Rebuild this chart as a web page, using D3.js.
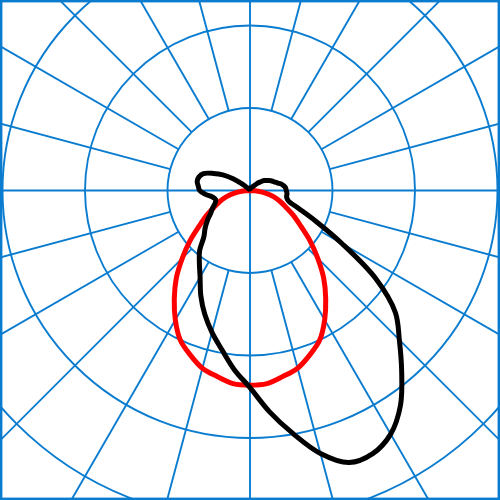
<!DOCTYPE html>
<html>
<head>
<meta charset="utf-8">
<script src="https://cdn.jsdelivr.net/npm/d3@7"></script>
<style>
  html, body { margin: 0; padding: 0; background: #fff; }
  svg { display: block; }
</style>
</head>
<body>
<div id="chart"></div>
<script>
// gamma angles (0 = straight down), one value per 5 degrees
const angles = [0, 5, 10, 15, 20, 25, 30, 35, 40, 45, 50, 55, 60, 65, 70, 75, 80, 85, 90,
  95, 100, 105, 110, 115, 120, 125, 130, 135, 140, 145, 150, 155, 160, 165, 170, 175, 180];

// black curve, right half and left half
const c0 = [239, 269, 299, 330, 351, 352, 341, 318, 286, 256, 230, 186, 129, 88, 62, 48, 45, 45, 44,
  43, 40, 35, 31, 28, 24, 21, 16, 12, 7, 6, 5, 4, 4, 3, 3, 2, 2];
const c180 = [239, 218, 196, 178, 160, 141, 121, 107, 95, 79, 71, 63, 55, 50, 45, 43, 46, 54, 61,
  63, 65, 64, 60, 49, 38, 25, 12, 5, 3, 2, 2, 2, 2, 2, 2, 2, 2];

// red curve, symmetric
const c90 = [236, 235, 229, 223, 212, 200, 181, 160, 139, 116, 95, 75, 61, 48, 39, 30, 20, 10, 0,
  0, 0, 0, 0, 0, 0, 0, 0, 0, 0, 0, 0, 0, 0, 0, 0, 0, 0];

const rings = [100, 200, 300, 400, 500];
const spokes = [0, 15, 30, 45, 60, 75, 90, 105, 120, 135, 150, 165,
  180, 195, 210, 225, 240, 255, 270, 285, 300, 315, 330, 345];

const width = 500, height = 500;
const cx = 250, cy = 190.5;
const gridColor = "#0a7cd0";

const r = d3.scaleLinear().domain([0, 100]).range([0, 82.5]);
const rad = Math.PI / 180;

const svg = d3.select("#chart").append("svg")
  .attr("width", width)
  .attr("height", height)
  .attr("viewBox", [0, 0, width, height]);

const g = svg.append("g")
  .attr("transform", `translate(${cx},${cy})`);

// rings
g.append("g")
  .selectAll("circle")
  .data(rings)
  .join("circle")
  .attr("r", d => r(d))
  .attr("fill", "none")
  .attr("stroke", gridColor)
  .attr("stroke-width", 1.9);

// spokes: main axes go through the centre, others start at first ring
g.append("g")
  .selectAll("line")
  .data(spokes)
  .join("line")
  .attr("x1", d => (d % 90 === 0 ? 0 : r(rings[0])) * Math.sin(d * rad))
  .attr("y1", d => (d % 90 === 0 ? 0 : r(rings[0])) * Math.cos(d * rad))
  .attr("x2", d => r(700) * Math.sin(d * rad))
  .attr("y2", d => r(700) * Math.cos(d * rad))
  .attr("stroke", gridColor)
  .attr("stroke-width", 1.9);

// frame
svg.append("rect")
  .attr("x", 1.2)
  .attr("y", 1.2)
  .attr("width", width - 2.4)
  .attr("height", height - 2.4)
  .attr("fill", "none")
  .attr("stroke", gridColor)
  .attr("stroke-width", 2.4);

function planePoints(right, left) {
  const pts = [];
  angles.forEach((a, i) => pts.push({ ang: Math.PI - a * rad, v: right[i] }));
  for (let i = angles.length - 2; i > 0; i--) {
    pts.push({ ang: Math.PI + angles[i] * rad, v: left[i] });
  }
  return pts;
}

const line = d3.lineRadial()
  .angle(d => d.ang)
  .radius(d => r(d.v))
  .curve(d3.curveCatmullRomClosed.alpha(0.5));

g.append("path")
  .attr("d", line(planePoints(c90, c90)))
  .attr("fill", "none")
  .attr("stroke", "#ff0000")
  .attr("stroke-width", 5)
  .attr("stroke-linejoin", "round");

g.append("path")
  .attr("d", line(planePoints(c0, c180)))
  .attr("fill", "none")
  .attr("stroke", "#000")
  .attr("stroke-width", 5)
  .attr("stroke-linejoin", "round");
</script>
</body>
</html>
